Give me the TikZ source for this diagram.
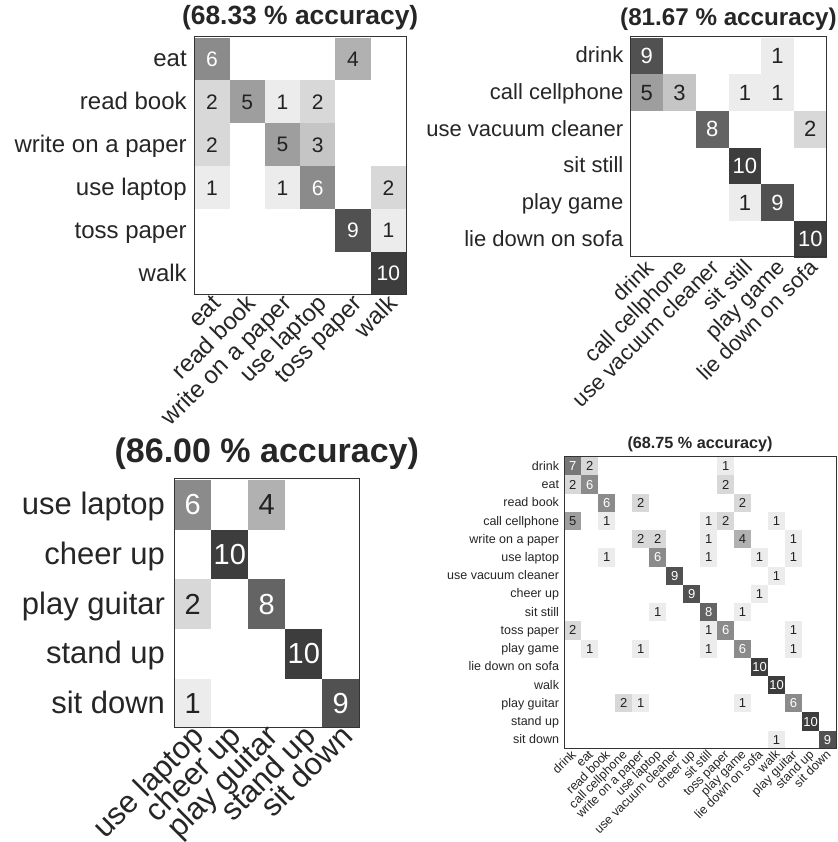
\documentclass[tikz,border=0pt]{standalone}
\usepackage{fontspec}
\setmainfont{Liberation Sans}
\definecolor{numdark}{HTML}{222222}
\definecolor{framecol}{HTML}{333333}
\definecolor{labcol}{HTML}{262626}
\tikzset{
  cellbox/.style={inner sep=0pt, outer sep=0pt, draw=none},
  labtext/.style={inner sep=0pt, outer sep=0pt, text=labcol},
  framebox/.style={draw=framecol, line width=0.9pt, fill=none, inner sep=0pt, outer sep=0pt},
  titletext/.style={inner sep=0pt, text=labcol}
}
% parameters: \cmL left, \cmT top, \cmW cell width, \cmH cell height, \cmn size,
% \cmF label font, \cmN number font, \cmG label gap, \cmDx, \cmDy col-label offsets
\newcommand\drawcm[3]{%
  \pgfmathsetmacro\cmB{\cmT+\cmn*\cmH}%
  \pgfmathsetmacro\cmFW{\cmn*\cmW}%
  \pgfmathsetmacro\cmFH{\cmn*\cmH}%
  \pgfmathsetmacro\cmTH{0.75*\cmF}%
  \pgfmathsetmacro\cmTD{0.21*\cmF}%
  \foreach \row [count=\i] in {#3} {%
    \foreach \v [count=\j] in \row {%
      \ifnum\v>0\relax
        \pgfmathsetmacro\cx{\cmL+(\j-0.5)*\cmW}%
        \pgfmathsetmacro\cy{\cmT+(\i-0.5)*\cmH+0.04*\cmN}%
        \pgfmathsetmacro\sh{7.6*\v}%
        \ifnum\v>5\relax\def\tc{white}\else\def\tc{numdark}\fi
        \node[cellbox, fill=black!\sh, text=\tc, minimum width=\cmW pt, minimum height=\cmH pt,
              font=\fontsize{\cmN}{\cmN}\selectfont] (#1-\i-\j) at (\cx,\cy) {\v};
      \fi
    }
  }
  \node[framebox, anchor=north west, minimum width=\cmFW pt, minimum height=\cmFH pt] (#1-frame) at (\cmL,\cmT) {};
  \foreach \lab [count=\i] in {#2} {%
    \pgfmathsetmacro\cy{\cmT+(\i-0.5)*\cmH+0.09*\cmF}%
    \pgfmathsetmacro\rx{\cmL-\cmG}%
    \node[labtext, anchor=east, text height=\cmTH pt, text depth=\cmTD pt,
          font=\fontsize{\cmF}{\cmF}\selectfont] (#1-row\i) at (\rx,\cy) {\lab};
    \pgfmathsetmacro\cx{\cmL+(\i-0.5)*\cmW+\cmDx}%
    \pgfmathsetmacro\by{\cmB+\cmDy}%
    \node[labtext, anchor=east, rotate=45, text height=\cmTH pt, text depth=\cmTD pt,
          font=\fontsize{\cmF}{\cmF}\selectfont] (#1-col\i) at (\cx,\by) {\lab};
  }
}
\begin{document}
\begin{tikzpicture}[x=1pt,y=-1pt]
\useasboundingbox (0,0) rectangle (837,842);
\fill[white] (0,0) rectangle (837,842);

% ---------- top left ----------
\def\cmL{194.3}\def\cmT{36.7}\def\cmW{35.28}\def\cmH{42.93}\def\cmn{6}
\def\cmF{24}\def\cmN{21}\def\cmG{7.6}\def\cmDx{5.6}\def\cmDy{6.3}
\node[titletext, anchor=base, font=\fontsize{26.4}{26.4}\selectfont\bfseries] (tl-title) at (300.2,24.5) {(68.33 \% accuracy)};
\drawcm{tl}{eat,read book,write on a paper,use laptop,toss paper,walk}{
 {6,0,0,0,4,0},{2,5,1,2,0,0},{2,0,5,3,0,0},{1,0,1,6,0,2},{0,0,0,0,9,1},{0,0,0,0,0,10}}

% ---------- top right ----------
\def\cmL{630.3}\def\cmT{36.7}\def\cmW{32.73}\def\cmH{36.67}\def\cmn{6}
\def\cmF{22}\def\cmN{22}\def\cmG{7}\def\cmDx{4.5}\def\cmDy{8.3}
\node[titletext, anchor=base, font=\fontsize{24.2}{24.2}\selectfont\bfseries] (tr-title) at (728.5,25.6) {(81.67 \% accuracy)};
\drawcm{tr}{drink,call cellphone,use vacuum cleaner,sit still,play game,lie down on sofa}{
 {9,0,0,0,1,0},{5,3,0,1,1,0},{0,0,8,0,0,2},{0,0,0,10,0,0},{0,0,0,1,9,0},{0,0,0,0,0,10}}

% ---------- bottom left ----------
\def\cmL{174.3}\def\cmT{478.7}\def\cmW{37}\def\cmH{49.66}\def\cmn{5}
\def\cmF{31}\def\cmN{29}\def\cmG{9.3}\def\cmDx{7.5}\def\cmDy{5.6}
\node[titletext, anchor=base, font=\fontsize{34}{34}\selectfont\bfseries] (bl-title) at (266.8,462.9) {(86.00 \% accuracy)};
\drawcm{bl}{use laptop,cheer up,play guitar,stand up,sit down}{
 {6,0,4,0,0},{0,10,0,0,0},{2,0,8,0,0},{0,0,0,10,0},{1,0,0,0,9}}

% ---------- bottom right ----------
\def\cmL{564.3}\def\cmT{456.7}\def\cmW{16.98}\def\cmH{18.23}\def\cmn{16}
\def\cmF{12.5}\def\cmN{13}\def\cmG{5.3}\def\cmDx{1.6}\def\cmDy{4.8}
\node[titletext, anchor=base, font=\fontsize{16.2}{16.2}\selectfont\bfseries] (br-title) at (700,448.3) {(68.75 \% accuracy)};
\drawcm{br}{drink,eat,read book,call cellphone,write on a paper,use laptop,use vacuum cleaner,cheer up,sit still,toss paper,play game,lie down on sofa,walk,play guitar,stand up,sit down}{
 {7,2,0,0,0,0,0,0,0,1,0,0,0,0,0,0},
 {2,6,0,0,0,0,0,0,0,2,0,0,0,0,0,0},
 {0,0,6,0,2,0,0,0,0,0,2,0,0,0,0,0},
 {5,0,1,0,0,0,0,0,1,2,0,0,1,0,0,0},
 {0,0,0,0,2,2,0,0,1,0,4,0,0,1,0,0},
 {0,0,1,0,0,6,0,0,1,0,0,1,0,1,0,0},
 {0,0,0,0,0,0,9,0,0,0,0,0,1,0,0,0},
 {0,0,0,0,0,0,0,9,0,0,0,1,0,0,0,0},
 {0,0,0,0,0,1,0,0,8,0,1,0,0,0,0,0},
 {2,0,0,0,0,0,0,0,1,6,0,0,0,1,0,0},
 {0,1,0,0,1,0,0,0,1,0,6,0,0,1,0,0},
 {0,0,0,0,0,0,0,0,0,0,0,10,0,0,0,0},
 {0,0,0,0,0,0,0,0,0,0,0,0,10,0,0,0},
 {0,0,0,2,1,0,0,0,0,0,1,0,0,6,0,0},
 {0,0,0,0,0,0,0,0,0,0,0,0,0,0,10,0},
 {0,0,0,0,0,0,0,0,0,0,0,0,1,0,0,9}}
\end{tikzpicture}
\end{document}
